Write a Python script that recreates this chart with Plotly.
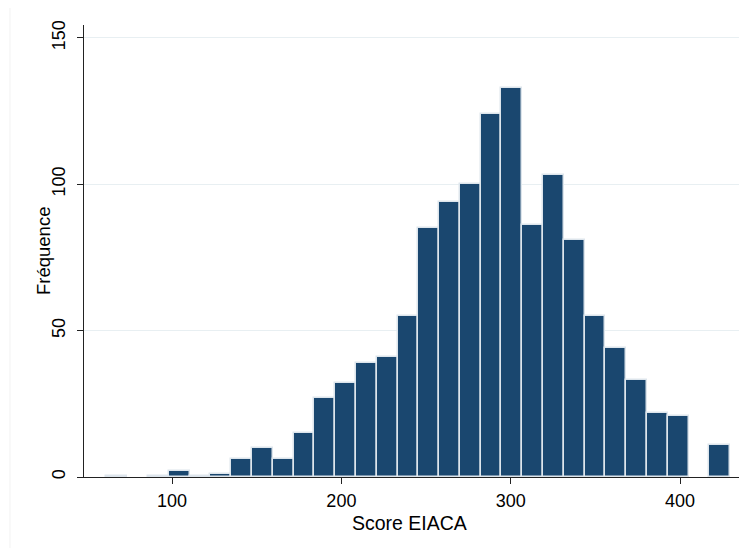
import plotly.graph_objects as go

# Histogram of Score EIACA (30 bins, Stata-style)
bin_start = 61.24
bin_width = 12.28
counts = [0.5, 0, 0.5, 2, 0.5, 1, 6, 10, 6, 15, 27, 32, 39, 41, 55, 85, 94, 100,
          124, 133, 86, 103, 81, 55, 44, 33, 22, 21, 0, 11]
x_ticks = [100, 200, 300, 400]
y_ticks = [0, 50, 100, 150]
x_label = "Score EIACA"
y_label = "Fréquence"

centers = [bin_start + bin_width * (i + 0.5) for i in range(len(counts))]
xs = [c for c, v in zip(centers, counts) if v > 0]
ys = [v for v in counts if v > 0]

fig = go.Figure(go.Bar(
    x=xs, y=ys, width=bin_width,
    marker=dict(color="#1a476f", line=dict(color="#dde5ec", width=1.5)),
    hoverinfo="x+y",
))

font_family = "Liberation Sans, Arial, sans-serif"
fig.update_layout(
    width=747, height=548,
    margin=dict(l=76, r=13, t=17, b=79),
    paper_bgcolor="white", plot_bgcolor="white",
    showlegend=False, bargap=0,
    font=dict(family=font_family, size=18, color="#000000"),
    xaxis=dict(
        range=[48.0, 436.6], tickvals=x_ticks, showgrid=False, zeroline=False,
        automargin=False,
        showline=True, linecolor="#222222", linewidth=1,
        ticks="outside", ticklen=6, tickcolor="#222222", tickwidth=1,
        ticklabelstandoff=1, tickfont=dict(size=18),
    ),
    yaxis=dict(
        range=[0, 154.4], tickvals=y_ticks, showgrid=True, gridcolor="#e8eff2",
        automargin=False,
        gridwidth=1, zeroline=False, showline=True, linecolor="#222222", linewidth=1,
        ticks="outside", ticklen=6, tickcolor="#222222", tickwidth=1,
        tickangle=-90, ticklabelstandoff=5, tickfont=dict(size=18),
    ),
    annotations=[
        dict(text=x_label, xref="paper", yref="paper", x=0.494, y=-0.1018,
             xanchor="center", yanchor="middle", showarrow=False,
             font=dict(size=19.5)),
        dict(text=y_label, xref="paper", yref="paper", x=-0.0623, y=0.5,
             xanchor="center", yanchor="middle", showarrow=False, textangle=-90,
             font=dict(size=18.5)),
    ],
    shapes=[dict(type="rect", xref="paper", yref="paper",
                 x0=-0.1125, x1=1.2, y0=-0.3, y1=1.042,
                 line=dict(color="#f2f2f2", width=1), layer="below")],
)

fig.write_html("out.html")
